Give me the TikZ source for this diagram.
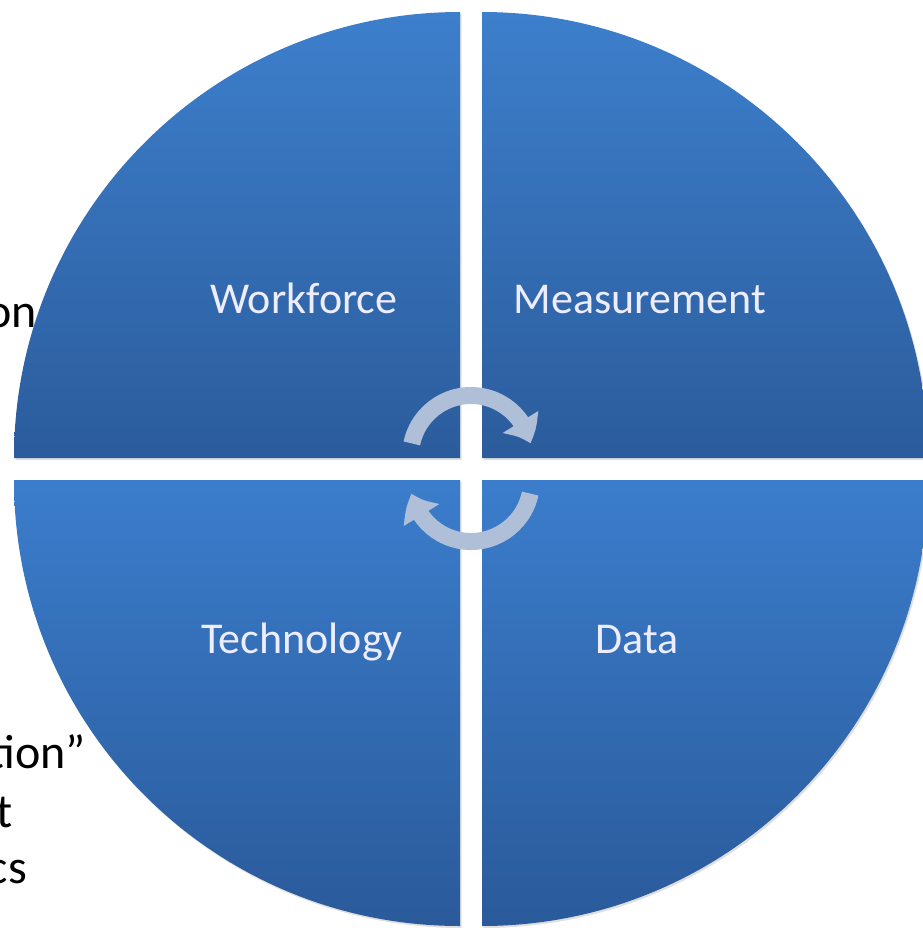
\documentclass[tikz,border=0pt]{standalone}
\usepackage{fontspec}
\setmainfont{Carlito}
\usetikzlibrary{arrows.meta,shadows,bending}
\definecolor{qtop}{RGB}{61,127,204}
\definecolor{qbot}{RGB}{43,92,156}
\definecolor{btop}{RGB}{59,125,204}
\definecolor{bbot}{RGB}{42,90,154}
\definecolor{arr}{RGB}{176,191,216}
\begin{document}
\begin{tikzpicture}[x=1pt,y=1pt,
  quad/.style={drop shadow={shadow xshift=1.5pt, shadow yshift=-2pt, opacity=0.25}},
  quadtop/.style={quad, top color=qtop, bottom color=qbot},
  quadbot/.style={quad, top color=btop, bottom color=bbot},
  lbl/.style={text=white!93!blue, font=\fontsize{44}{50}\selectfont, anchor=base, inner sep=0pt},
  side/.style={text=black, font=\fontsize{48}{58}\selectfont, anchor=base east, inner sep=0pt},
  cyc/.style={draw=arr, line width=17pt, -{Triangle[width=40pt,length=24pt,bend]}}]
\useasboundingbox (0,0) rectangle (922,-928);
% partially hidden text on the left
\node[side] (s1) at (37,-327) {on};
\node[side] (s2) at (86,-768) {tion”};
\node[side] (s3) at (13,-827) {t};
\node[side] (s4) at (27,-883) {cs};
% quadrants
\path[quadtop] (460,-458) -- (14,-458) arc[start angle=180,end angle=90,radius=446] -- cycle;
\path[quadtop] (482,-458) -- (482,-12) arc[start angle=90,end angle=0,radius=446] -- cycle;
\path[quadbot] (460,-480) -- (460,-926) arc[start angle=270,end angle=180,radius=446] -- cycle;
\path[quadbot] (482,-480) -- (928,-480) arc[start angle=0,end angle=-90,radius=446] -- cycle;
% labels
\node[lbl] (work) at (304,-313) {Workforce};
\node[lbl] (meas) at (640,-313) {Measurement};
\node[lbl] (tech) at (302,-653) {Technology};
\node[lbl] (data) at (637,-653) {Data};
% cycle arrows
\coordinate (ct) at (471,-456);
\coordinate (cb) at (471,-481);
\draw[cyc] ([shift={(168:60.5)}]ct) arc[start angle=168,end angle=12,radius=60.5];
\draw[cyc] ([shift={(-12:60.5)}]cb) arc[start angle=-12,end angle=-168,radius=60.5];
\end{tikzpicture}
\end{document}
